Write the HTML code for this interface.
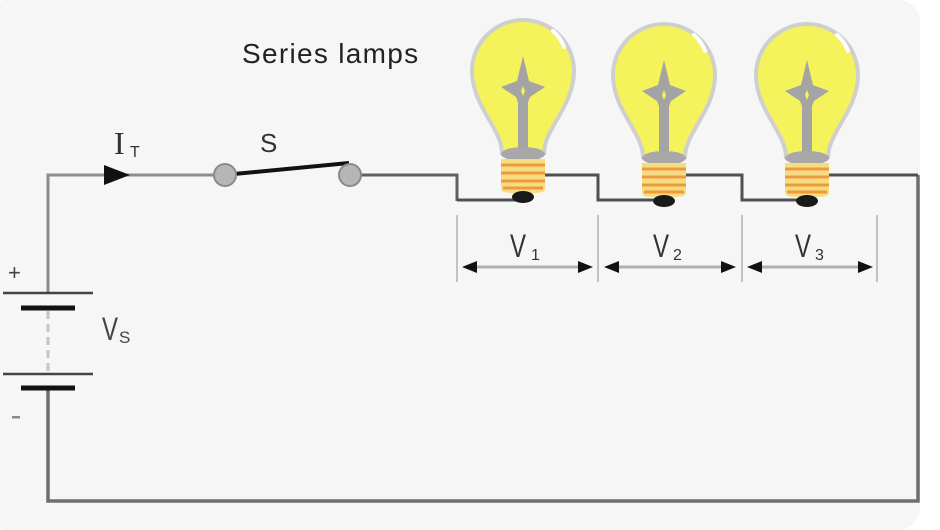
<!DOCTYPE html>
<html><head><meta charset="utf-8"><style>
html,body{margin:0;padding:0;background:#fff;}
body{width:940px;height:522px;overflow:hidden;position:relative;}
.card{position:absolute;left:0;top:0;width:920px;height:530px;background:#f6f6f6;border-radius:4px 22px 22px 4px;}
svg{position:absolute;left:0;top:0;}
text{font-family:"Liberation Sans",sans-serif;}
</style></head><body>
<div class="card"></div>
<svg width="940" height="522" viewBox="0 0 940 522">
<defs>
<g id="bulb">
  <path d="M-21,152 C-21,128 -51,105 -51,70 A51 51 0 1 1 51,70 C51,105 21,128 21,152 Z" fill="#f5f35c" stroke="#cfcfcf" stroke-width="4"/>
  <path d="M30,30 Q38,37 41,46" stroke="#fff" stroke-width="4" fill="none" stroke-linecap="round"/>
  <rect x="-5" y="90" width="10" height="60" fill="#a4a4a4"/>
  <path d="M0,55 L6,80 L22,86 L7,96 L4,104 L-4,104 L-7,96 L-22,86 L-6,80 Z" fill="#a4a4a4"/>
  <path d="M0,85 L2,90 L0,95 L-2,90 Z" fill="#f5f35c"/>
  <ellipse cx="0" cy="153" rx="22" ry="7" fill="#a8a8a8"/>
  <path d="M-22,158 L22,158 L22,188 Q22,192 10,192 L-10,192 Q-22,192 -22,188 Z" fill="#f7dd82"/>
  <path d="M-22,164 L22,164 M-22,172 L22,172 M-22,180 L22,180 M-20,187 L20,187" stroke="#ec9a3c" stroke-width="3"/>
  <ellipse cx="0" cy="196" rx="11" ry="6" fill="#1a1a1a"/>
</g>
</defs>

<!-- left circuit wires -->
<path d="M48,293 L48,175 L216,175" stroke="#8c8c8c" stroke-width="3" fill="none"/>
<path d="M361,175 L457,175 L457,201" stroke="#606060" stroke-width="3" fill="none"/>
<path d="M48,388 L48,501 L918,501 L918,175" stroke="#6e6e6e" stroke-width="3.5" fill="none"/>

<!-- lamp wires -->
<path d="M457,200 L520,200" stroke="#505050" stroke-width="3" fill="none"/>
<path d="M540,175 L598,175 L598,200 L662,200" stroke="#505050" stroke-width="3" fill="none"/>
<path d="M683,175 L742,175 L742,200 L807,200" stroke="#505050" stroke-width="3" fill="none"/>
<path d="M826,175 L918,175" stroke="#505050" stroke-width="3" fill="none"/>

<!-- bulbs -->
<use href="#bulb" transform="translate(523,1)"/>
<use href="#bulb" transform="translate(664,5)"/>
<use href="#bulb" transform="translate(807,5)"/>

<!-- current arrow -->
<path d="M104,165 L130,175 L104,185 Z" fill="#111"/>
<text x="114" y="154" font-size="32" fill="#333" style="font-family:'Liberation Serif',serif">I</text>
<text x="130" y="157" font-size="16" fill="#333">T</text>

<!-- switch -->
<line x1="234" y1="174" x2="349" y2="163" stroke="#111" stroke-width="4"/>
<circle cx="225" cy="175" r="11" fill="#b6b6b6" stroke="#8a8a8a" stroke-width="2"/>
<circle cx="350" cy="175" r="11" fill="#b6b6b6" stroke="#8a8a8a" stroke-width="2"/>
<text x="260" y="152" font-size="26" fill="#333">S</text>

<text x="242" y="63" font-size="28" letter-spacing="1.3" fill="#222">Series lamps</text>

<!-- battery -->
<line x1="3" y1="293" x2="93" y2="293" stroke="#444" stroke-width="2.5"/>
<line x1="21" y1="308" x2="75" y2="308" stroke="#111" stroke-width="5"/>
<line x1="48" y1="311" x2="48" y2="372" stroke="#c4c4c4" stroke-width="3" stroke-dasharray="8,5"/>
<line x1="3" y1="374" x2="93" y2="374" stroke="#444" stroke-width="2.5"/>
<line x1="21" y1="388" x2="75" y2="388" stroke="#111" stroke-width="5"/>
<text x="8" y="280" font-size="22" fill="#444">+</text>
<rect x="12" y="416" width="8" height="2.5" fill="#888"/>
<text transform="translate(102,340) scale(1,1.35)" font-size="24" fill="#444">V</text>
<text x="119" y="343" font-size="17" fill="#444">S</text>

<!-- dimension lines -->
<g stroke="#c2c2c2" stroke-width="2">
<line x1="457" y1="215" x2="457" y2="282"/>
<line x1="598" y1="215" x2="598" y2="282"/>
<line x1="742" y1="215" x2="742" y2="282"/>
<line x1="877" y1="215" x2="877" y2="282"/>
</g>
<g stroke="#b0b0b0" stroke-width="3">
<line x1="470" y1="267" x2="585" y2="267"/>
<line x1="612" y1="267" x2="728" y2="267"/>
<line x1="755" y1="267" x2="866" y2="267"/>
</g>
<g fill="#111">
<path d="M462,267 L477,261 L477,273 Z"/><path d="M593,267 L578,261 L578,273 Z"/>
<path d="M604,267 L619,261 L619,273 Z"/><path d="M736,267 L721,261 L721,273 Z"/>
<path d="M747,267 L762,261 L762,273 Z"/><path d="M873,267 L858,261 L858,273 Z"/>
</g>
<text transform="translate(510,257) scale(1,1.35)" font-size="24" fill="#333">V</text><text x="531" y="260" font-size="16" fill="#333">1</text>
<text transform="translate(653,257) scale(1,1.35)" font-size="24" fill="#333">V</text><text x="673" y="260" font-size="16" fill="#333">2</text>
<text transform="translate(795,257) scale(1,1.35)" font-size="24" fill="#333">V</text><text x="815" y="260" font-size="16" fill="#333">3</text>
</svg>
</body></html>
